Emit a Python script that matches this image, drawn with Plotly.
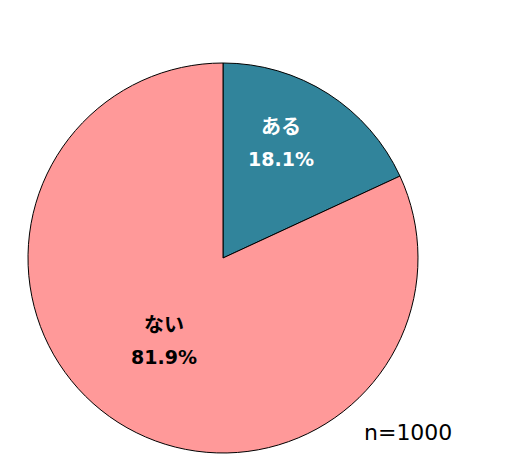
import math
import plotly.graph_objects as go

labels = ["ある", "ない"]
values = [18.1, 81.9]
colors = ["#31849B", "#FF9999"]
label_colors = ["white", "black"]
n_text = "n=1000"

W, H = 514, 466
OFF = 8  # page body margin
cx, cy, R = 223 - OFF, 258 - OFF, 195

fig = go.Figure(go.Pie(
    labels=labels, values=values, sort=False, direction="clockwise", rotation=0,
    marker=dict(colors=colors, line=dict(color="black", width=1)),
    textinfo="none", hoverinfo="label+percent", showlegend=False,
    domain=dict(x=[(cx - R) / W, (cx + R) / W], y=[1 - (cy + R) / H, 1 - (cy - R) / H]),
))

# label anchor positions (angle clockwise from top, fraction of radius)
label_pos = {"ある": (26.6, 0.66), "ない": (215.5, 0.52)}
annotations = []
for lab, v, col in zip(labels, values, label_colors):
    a, rr = label_pos[lab]
    ang = math.radians(a)
    px = cx + rr * R * math.sin(ang)
    py = cy - rr * R * math.cos(ang)
    annotations.append(dict(
        x=px / W, y=1 - (py - 17) / H, xref="paper", yref="paper",
        text=f"<b>{lab}</b>", showarrow=False,
        font=dict(family="Noto Sans CJK JP", size=20, color=col),
        xanchor="center", yanchor="middle"))
    annotations.append(dict(
        x=px / W, y=1 - (py + 16) / H, xref="paper", yref="paper",
        text=f"<b>{v:.1f}%</b>", showarrow=False,
        font=dict(family="DejaVu Sans", size=19, color=col),
        xanchor="center", yanchor="middle"))

annotations.append(dict(
    x=(408 - OFF) / W, y=1 - (432 - OFF) / H, xref="paper", yref="paper", text=n_text, showarrow=False,
    font=dict(family="DejaVu Sans", size=22, color="black"),
    xanchor="center", yanchor="middle"))

fig.update_layout(
    width=W, height=H, margin=dict(l=0, r=0, t=0, b=0),
    paper_bgcolor="white", plot_bgcolor="white",
    annotations=annotations,
)
fig.write_html("out.html")
